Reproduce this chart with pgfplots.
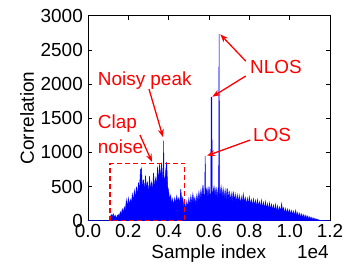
\documentclass[border=0pt]{standalone}
\usepackage{fontspec}
\setmainfont{Liberation Sans}
\usepackage{pgfplots}
\pgfplotsset{compat=1.18}
\usetikzlibrary{arrows.meta}
\begin{document}
\fontsize{19}{23}\selectfont
\begin{tikzpicture}[x=1bp,y=1bp]
\path[use as bounding box] (-88,-44.3) rectangle (258,220.7);
\begin{axis}[
 at={(0,0)}, anchor=south west,
 width=242bp, height=205bp, scale only axis,
 xmin=0,xmax=12000,ymin=0,ymax=3000,
 xtick={0,2000,...,12000}, xticklabels={0.0,0.2,0.4,0.6,0.8,1.0,1.2},
 ytick={0,500,...,3000},
 scaled x ticks=false, scaled y ticks=false,
 /pgf/number format/assume math mode=true,
 /pgf/number format/1000 sep={},
 tick align=inside, major tick length=4bp,
 tick style={black, line width=0.5pt},
 ticklabel style={font=\fontsize{19}{23}\selectfont},
 xticklabel style={yshift=2.5bp},
 yticklabel style={xshift=1.3bp},
 axis line style={black, line width=0.7pt},
 xlabel={Sample index}, ylabel={Correlation},
 label style={font=\fontsize{19}{23}\selectfont},
 xlabel style={at={(axis description cs:0.499,-0.182)}, anchor=base},
 ylabel style={at={(axis description cs:-0.252,0.501)}, anchor=center},
 clip=false,
]
\addplot[blue, fill=blue, line width=0.5pt] coordinates {
(0,0) (1050,0)
(1100,40) (1150,90) (1200,60) (1250,100) (1300,50) (1350,80) (1400,30) (1450,70) (1500,90)
(1550,60) (1600,130) (1650,90) (1700,170) (1750,120) (1800,200) (1850,140) (1900,300) (1950,200)
(2000,330) (2050,230) (2100,310) (2150,250) (2200,390) (2250,280) (2300,440) (2350,320) (2400,500)
(2450,360) (2500,560) (2550,420) (2600,740) (2650,770) (2700,460) (2750,600) (2800,420) (2850,660)
(2900,480) (2950,560) (3000,380) (3050,650) (3100,450) (3150,560) (3200,430) (3250,700) (3300,470)
(3350,620) (3400,520) (3450,790) (3500,560) (3550,830) (3600,600) (3650,850) (3700,640)
(3730,600) (3750,1170) (3770,600)
(3800,560) (3850,720) (3900,860) (3950,500) (4000,430) (4050,300) (4100,370) (4150,240) (4200,320)
(4250,220) (4300,330) (4350,250) (4400,360) (4450,270) (4500,330) (4550,240) (4600,460) (4650,280)
(4700,340) (4750,190) (4800,270) (4850,160) (4900,280) (4950,190) (5000,320) (5050,210) (5100,360)
(5150,240) (5200,390) (5250,260) (5300,340) (5350,230) (5400,380) (5450,270) (5500,420) (5550,300)
(5600,450) (5650,330) (5700,520) (5750,360) (5790,380) (5810,950) (5830,380) (5900,480) (5950,330) (6000,500)
(6050,360) (6090,400) (6110,1810) (6140,1810) (6160,400) (6200,420) (6250,500) (6300,350) (6350,490) (6400,330) (6450,460)
(6480,400) (6500,2730) (6520,400) (6550,380) (6600,500) (6650,340) (6700,470) (6750,320) (6800,450) (6850,300) (6900,480)
(6950,300) (7000,440) (7050,280) (7100,400) (7150,270) (7200,430) (7250,290) (7300,390) (7350,260)
(7400,380) (7450,270) (7500,370) (7550,240) (7600,350) (7650,250) (7700,390) (7750,260) (7800,340)
(7850,230) (7900,330) (7950,240) (8000,350) (8050,230) (8100,310) (8150,210) (8200,320) (8250,220)
(8300,300) (8350,200) (8400,310) (8450,210) (8500,280) (8550,190) (8600,300) (8650,180) (8700,270)
(8750,170) (8800,280) (8850,170) (8900,250) (8950,160) (9000,260) (9050,160) (9100,240) (9150,150)
(9200,230) (9250,140) (9300,240) (9350,130) (9400,220) (9450,130) (9500,200) (9550,130) (9600,250)
(9650,140) (9700,190) (9750,110) (9800,180) (9850,100) (9900,170) (9950,100) (10000,160) (10050,90)
(10100,150) (10150,80) (10200,140) (10250,70) (10300,150) (10350,60) (10400,120) (10450,50) (10500,110)
(10550,40) (10600,100) (10650,40) (10700,90) (10750,30) (10800,80) (10850,30) (10900,70) (10950,20)
(11000,60) (11050,20) (11100,50) (11150,10) (11200,40) (11250,10) (11300,30) (11350,10) (11400,20)
(11450,0) (11500,10) (11550,0) (12000,0)
} \closedcycle;
\draw[draw=red, line width=1.6pt, dash pattern=on 5bp off 3bp] (axis cs:1090,0) -- (axis cs:1090,840) -- (axis cs:4780,840) -- (axis cs:4780,0) -- cycle;
\begin{scope}[red, line width=1.3pt, -{Stealth[length=8bp,width=6bp]}]
\draw (axis cs:3025,1927) -- (axis cs:3719,1223);
\draw (axis cs:2579,1254) -- (axis cs:3174,859);
\draw (axis cs:7820,2336) -- (axis cs:6560,2727);
\draw (axis cs:7820,2117) -- (axis cs:6164,1814);
\draw (axis cs:8048,1181) -- (axis cs:5901,951);
\end{scope}
\begin{scope}[every node/.style={red, inner sep=0pt, anchor=base west, font=\fontsize{19}{23}\selectfont}]
\node at (axis cs:481,1985) {Noisy peak};
\node at (axis cs:481,1352) {Clap};
\node at (axis cs:481,986) {noise};
\node at (axis cs:8033,2156) {NLOS};
\node at (axis cs:8182,1156) {LOS};
\node[black, anchor=base] at (axis description cs:0.929,-0.182) {1e4};
\end{scope}
\end{axis}
\end{tikzpicture}
\end{document}
